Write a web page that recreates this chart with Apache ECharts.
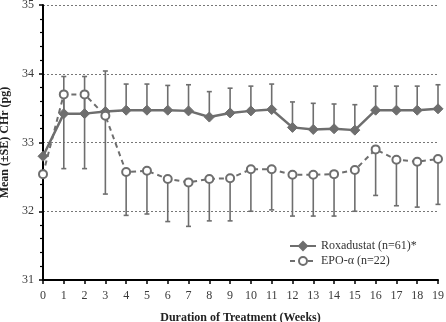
<!DOCTYPE html>
<html><head><meta charset="utf-8">
<script src="https://cdn.jsdelivr.net/npm/echarts@6/dist/echarts.min.js"></script>
<style>html,body{margin:0;padding:0;background:#fff}#c{width:446px;height:322px}</style>
</head><body><div id="c"></div>
<script>
var weeks = [0,1,2,3,4,5,6,7,8,9,10,11,12,13,14,15,16,17,18,19];
var roxMean = [32.80,33.42,33.42,33.45,33.47,33.47,33.47,33.46,33.37,33.43,33.46,33.48,33.22,33.19,33.20,33.18,33.47,33.47,33.47,33.49];
var roxUpper = [null,33.96,33.96,34.04,33.85,33.85,33.83,33.84,33.74,33.79,33.82,33.85,33.59,33.57,33.56,33.55,33.82,33.82,33.82,33.84];
var epoMean = [32.54,33.70,33.70,33.39,32.57,32.59,32.47,32.42,32.47,32.48,32.61,32.61,32.53,32.53,32.54,32.60,32.90,32.75,32.72,32.76];
var epoLower = [null,32.62,32.62,32.25,31.94,31.96,31.85,31.78,31.86,31.86,32.00,32.02,31.93,31.93,31.93,32.00,32.23,32.08,32.06,32.10];
var yTicks = [31,32,33,34,35];
var roxName = 'Roxadustat (n=61)*';
var epoName = 'EPO-\u03b1 (n=22)';

var gray = '#6e6e6e';
var font = 'Liberation Serif';

function pairs(a, b) { return a.map(function (v, i) { return [weeks[i], v, b[i]]; }); }

function errRender(params, api) {
  var x = api.value(0), m = api.value(1), e = api.value(2);
  if (e === null || isNaN(e)) return;
  var p1 = api.coord([x, m]), p2 = api.coord([x, e]);
  var cw = 2.5;
  return {
    type: 'group',
    children: [
      { type: 'line', shape: { x1: p1[0], y1: p1[1], x2: p2[0], y2: p2[1] }, style: { stroke: gray, lineWidth: 1.6 } },
      { type: 'line', shape: { x1: p2[0] - cw, y1: p2[1], x2: p2[0] + cw, y2: p2[1] }, style: { stroke: gray, lineWidth: 1.6 } }
    ]
  };
}

var chart = echarts.init(document.getElementById('c'));
chart.setOption({
  animation: false,
  backgroundColor: '#fff',
  grid: { left: 43, right: 8, top: 5, bottom: 42, containLabel: false, outerBoundsMode: 'none' },
  legend: {
    orient: 'vertical', left: 284, top: 235, itemGap: 3, itemWidth: 26, itemHeight: 10,
    textStyle: { fontFamily: font, fontSize: 12, color: '#333' },
    data: [roxName, epoName]
  },
  xAxis: {
    type: 'value', min: 0, max: 19, interval: 1,
    name: 'Duration of Treatment (Weeks)', nameLocation: 'middle', nameGap: 32,
    nameTextStyle: { fontFamily: font, fontSize: 12, fontWeight: 'bold', color: '#222' },
    axisLine: { lineStyle: { color: '#000', width: 2 } },
    axisTick: { show: true, length: 4, lineStyle: { color: '#000', width: 1.5 } },
    axisLabel: { fontFamily: font, fontSize: 12, color: '#3a3a3a', margin: 10 },
    splitLine: { show: false }
  },
  yAxis: {
    type: 'value', min: yTicks[0], max: yTicks[yTicks.length - 1], interval: 1,
    name: 'Mean (\u00b1SE) CHr (pg)', nameLocation: 'middle', nameGap: 29,
    nameTextStyle: { fontFamily: font, fontSize: 12, fontWeight: 'bold', color: '#222' },
    axisLine: { show: true, lineStyle: { color: '#000', width: 2 } },
    axisTick: { show: true, length: 4, lineStyle: { color: '#000', width: 1.5 } },
    minorTick: { show: true, splitNumber: 5, length: 3, lineStyle: { color: '#000', width: 1.2 } },
    axisLabel: { fontFamily: font, fontSize: 12, color: '#3a3a3a', margin: 9 },
    splitLine: { show: true, lineStyle: { color: '#777', type: [2, 2], width: 1 } }
  },
  series: [
    { type: 'custom', renderItem: errRender, data: pairs(roxMean, roxUpper), z: 1, silent: true, encode: { x: 0, y: 1 } },
    { type: 'custom', renderItem: errRender, data: pairs(epoMean, epoLower), z: 1, silent: true, encode: { x: 0, y: 1 } },
    {
      name: roxName, type: 'line', z: 3,
      data: weeks.map(function (w, i) { return [w, roxMean[i]]; }),
      symbol: 'diamond', symbolSize: 10,
      lineStyle: { color: gray, width: 2.5 },
      itemStyle: { color: gray, borderColor: gray, borderWidth: 1 }
    },
    {
      name: epoName, type: 'line', z: 4,
      data: weeks.map(function (w, i) { return [w, epoMean[i]]; }),
      symbol: 'circle', symbolSize: 8,
      lineStyle: { color: gray, width: 2, type: [5, 4] },
      itemStyle: { color: '#fff', borderColor: gray, borderWidth: 2 }
    }
  ]
});
</script>
</body></html>
